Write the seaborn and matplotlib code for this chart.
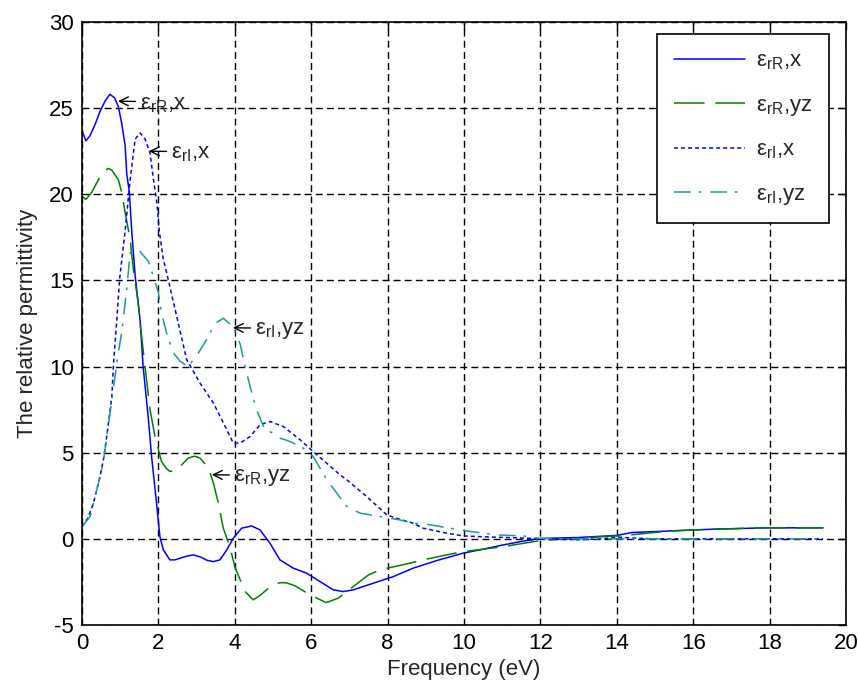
import numpy as np
import pandas as pd
import matplotlib
matplotlib.use("Agg")
import matplotlib.pyplot as plt
import seaborn as sns

# ----- data ----- #
x_rR_x = [0, 0.1, 0.21, 0.35, 0.47, 0.6, 0.73, 0.85, 0.95, 1.04, 1.13, 1.17, 1.24, 1.30,
          1.39, 1.52, 1.60, 1.74, 1.82, 1.95, 2.04, 2.13, 2.3, 2.43, 2.57, 2.75, 2.91, 3.1,
          3.28, 3.44, 3.61, 3.79, 3.96, 4.18, 4.44, 4.66, 4.92, 5.18, 5.53, 5.88, 6.23, 6.58,
          6.84, 7.1, 7.63, 8.15, 8.67, 9.3, 9.98, 10.5, 11.03, 11.5, 12.0, 13.0, 14.0, 14.4,
          15.4, 16.5, 17.9, 19.4]
y_rR_x = [23.7, 23.1, 23.4, 24.1, 24.8, 25.4, 25.8, 25.6, 25.1, 24.1, 22.8, 21.2, 20.1, 17.9,
          15.3, 12.7, 10.0, 6.9, 4.8, 2.1, 0.1, -0.64, -1.22, -1.22, -1.12, -1.0, -0.93, -1.05,
          -1.25, -1.32, -1.22, -0.64, 0.04, 0.62, 0.75, 0.52, -0.25, -1.22, -1.7, -1.99, -2.48,
          -2.96, -3.06, -2.96, -2.57, -2.19, -1.7, -1.25, -0.83, -0.6, -0.35, -0.15, 0.02, 0.08,
          0.2, 0.37, 0.46, 0.56, 0.64, 0.64]

x_rR_yz = [0, 0.1, 0.25, 0.43, 0.55, 0.69, 0.78, 0.95, 1.04, 1.13, 1.26, 1.34, 1.47, 1.56,
           1.69, 1.78, 1.91, 2.0, 2.08, 2.2, 2.3, 2.48, 2.78, 2.95, 3.09, 3.31, 3.44, 3.57, 3.7,
           3.87, 4.0, 4.14, 4.27, 4.48, 4.65, 4.83, 5.0, 5.18, 5.35, 5.58, 5.97, 6.39, 6.71, 7.1,
           7.5, 7.8, 8.2, 8.59, 8.93, 9.5, 9.98, 10.5, 11.03, 11.5, 11.99, 13.04, 14.35, 15.4,
           16.5, 17.9, 19.4]
y_rR_yz = [19.9, 19.7, 20.1, 20.85, 21.3, 21.5, 21.4, 20.85, 20.1, 18.9, 17.4, 15.7, 13.7,
           11.75, 9.23, 7.5, 5.94, 5.17, 4.49, 4.1, 3.91, 4.0, 4.69, 4.8, 4.69, 4.1, 3.23, 2.07,
           0.6, -0.45, -1.61, -2.38, -3.06, -3.54, -3.3, -2.96, -2.7, -2.54, -2.55, -2.73, -3.25,
           -3.7, -3.44, -2.77, -2.09, -1.8, -1.6, -1.41, -1.22, -0.95, -0.74, -0.6, -0.45, -0.28,
           -0.1, 0.04, 0.23, 0.46, 0.56, 0.64, 0.64]

x_rI_x = [0, 0.15, 0.3, 0.47, 0.56, 0.65, 0.78, 0.82, 0.91, 0.99, 1.13, 1.26, 1.39, 1.52, 1.65,
          1.78, 1.87, 1.96, 2.02, 2.13, 2.22, 2.48, 2.74, 3.09, 3.44, 3.79, 3.96, 4.14, 4.4, 4.66,
          4.92, 5.27, 5.71, 6.05, 6.4, 6.75, 6.93, 7.45, 7.98, 8.3, 8.67, 8.93, 9.5, 9.98, 10.77,
          11.5, 12.0, 13.0, 13.6, 14.0, 14.4, 15.0, 16.0, 19.4]
y_rI_x = [0.7, 1.2, 2.07, 3.6, 4.6, 6.0, 8.26, 10.0, 12.7, 15.2, 17.9, 20.85, 23.2, 23.56, 23.2,
          22.4, 20.85, 19.5, 17.9, 16.2, 15.4, 12.9, 10.4, 9.04, 7.88, 6.33, 5.56, 5.56, 5.94,
          6.62, 6.81, 6.52, 5.75, 5.07, 4.4, 3.72, 3.43, 2.46, 1.39, 1.15, 0.91, 0.62, 0.35, 0.17,
          0.1, 0.05, 0.0, -0.05, 0.0, 0.1, 0.05, 0.0, 0.0, 0.0]

x_rI_yz = [0, 0.21, 0.43, 0.56, 0.78, 0.95, 1.04, 1.17, 1.26, 1.47, 1.74, 1.87, 2.0, 2.08, 2.22,
           2.39, 2.57, 2.78, 3.05, 3.26, 3.48, 3.7, 3.96, 4.14, 4.27, 4.4, 4.57, 4.75, 5.0, 5.18,
           5.45, 5.79, 6.05, 6.23, 6.41, 6.67, 6.93, 7.28, 7.8, 8.32, 8.67, 9.02, 9.63, 10.16,
           10.86, 11.55, 12.0, 13.0, 19.4]
y_rI_yz = [0.7, 1.3, 3.23, 4.5, 8.07, 10.8, 12.0, 14.5, 16.6, 16.8, 16.1, 15.2, 14.3, 13.1, 11.9,
           10.8, 10.3, 10.0, 10.8, 11.56, 12.5, 12.8, 12.3, 11.3, 10.0, 8.84, 7.5, 6.52, 6.1, 5.85,
           5.65, 5.27, 4.78, 4.1, 3.43, 2.65, 1.88, 1.49, 1.3, 1.1, 0.91, 0.85, 0.62, 0.43, 0.23,
           0.17, 0.02, 0.0, 0.0]

series_names = ["rR_x", "rR_yz", "rI_x", "rI_yz"]
legend_labels = [r"ε$_{\mathrm{rR}}$,x", r"ε$_{\mathrm{rR}}$,yz",
                 r"ε$_{\mathrm{rI}}$,x", r"ε$_{\mathrm{rI}}$,yz"]
annot_text = [r"ε$_{\mathrm{rR}}$,x", r"ε$_{\mathrm{rI}}$,x",
              r"ε$_{\mathrm{rI}}$,yz", r"ε$_{\mathrm{rR}}$,yz"]
annot_x = [0.94, 1.75, 3.95, 3.4]
annot_y = [25.4, 22.5, 12.25, 3.72]

# long table for seaborn
frames = []
for name, xs, ys in zip(series_names,
                        [x_rR_x, x_rR_yz, x_rI_x, x_rI_yz],
                        [y_rR_x, y_rR_yz, y_rI_x, y_rI_yz]):
    frames.append(pd.DataFrame({"freq": xs, "eps": ys, "curve": name}))
df = pd.concat(frames, ignore_index=True)

sns.set_style("white")
plt.rcParams["font.family"] = ["Liberation Sans", "DejaVu Sans"]
plt.rcParams["mathtext.fontset"] = "custom"
plt.rcParams["mathtext.rm"] = "Liberation Sans"
plt.rcParams["mathtext.it"] = "Liberation Sans:italic"
plt.rcParams["mathtext.bf"] = "Liberation Sans:bold"
plt.rcParams["axes.unicode_minus"] = False

fs = 16
fig = plt.figure(figsize=(8.58, 6.91), dpi=100)
ax = fig.add_axes([0.0956, 0.0955, 0.8904, 0.8727])

palette = {"rR_x": "#0000ff", "rR_yz": "#008000", "rI_x": "#0000ff", "rI_yz": "#1a9a9a"}
dashes = {"rR_x": "", "rR_yz": (20, 7), "rI_x": (2.6, 2.0), "rI_yz": (11, 5, 1.8, 6)}
sns.lineplot(data=df, x="freq", y="eps", hue="curve", style="curve",
             hue_order=series_names, style_order=series_names,
             palette=palette, dashes=dashes, estimator=None, sort=False,
             linewidth=1.1, legend=False, ax=ax)

ax.set_xlim(0, 20)
ax.set_ylim(-5, 30)
ax.set_xticks(range(0, 21, 2))
ax.set_yticks(range(-5, 31, 5))
ax.grid(True, color="black", linestyle=(0, (5, 3)), linewidth=1.0)
ax.tick_params(direction="in", length=6, width=1, top=True, right=True,
               labelsize=fs, colors="black", pad=6)
for sp in ax.spines.values():
    sp.set_color("black")
    sp.set_linewidth(1.2)

ax.set_xlabel("Frequency (eV)", fontsize=fs, labelpad=3)
ax.set_ylabel("The relative permittivity", fontsize=fs, labelpad=8)

# arrow + label, arrow tip on the curve
for t, xx, yy in zip(annot_text, annot_x, annot_y):
    ax.annotate(t, xy=(xx, yy), xytext=(16, -2), textcoords="offset points",
                fontsize=fs, ha="left", va="center",
                arrowprops=dict(arrowstyle="->", color="black", lw=1.0,
                                shrinkA=1, shrinkB=0, relpos=(0, 0.62)))

leg = ax.legend(handles=ax.lines[:4], labels=legend_labels, loc="upper right",
                bbox_to_anchor=(0.978, 0.980), borderaxespad=0, fontsize=fs,
                frameon=True, fancybox=False, edgecolor="black", framealpha=1,
                handlelength=3.2, labelspacing=1.0, borderpad=0.75, handletextpad=0.5)
leg.get_frame().set_linewidth(1.2)

fig.savefig("out.png", dpi=100)
